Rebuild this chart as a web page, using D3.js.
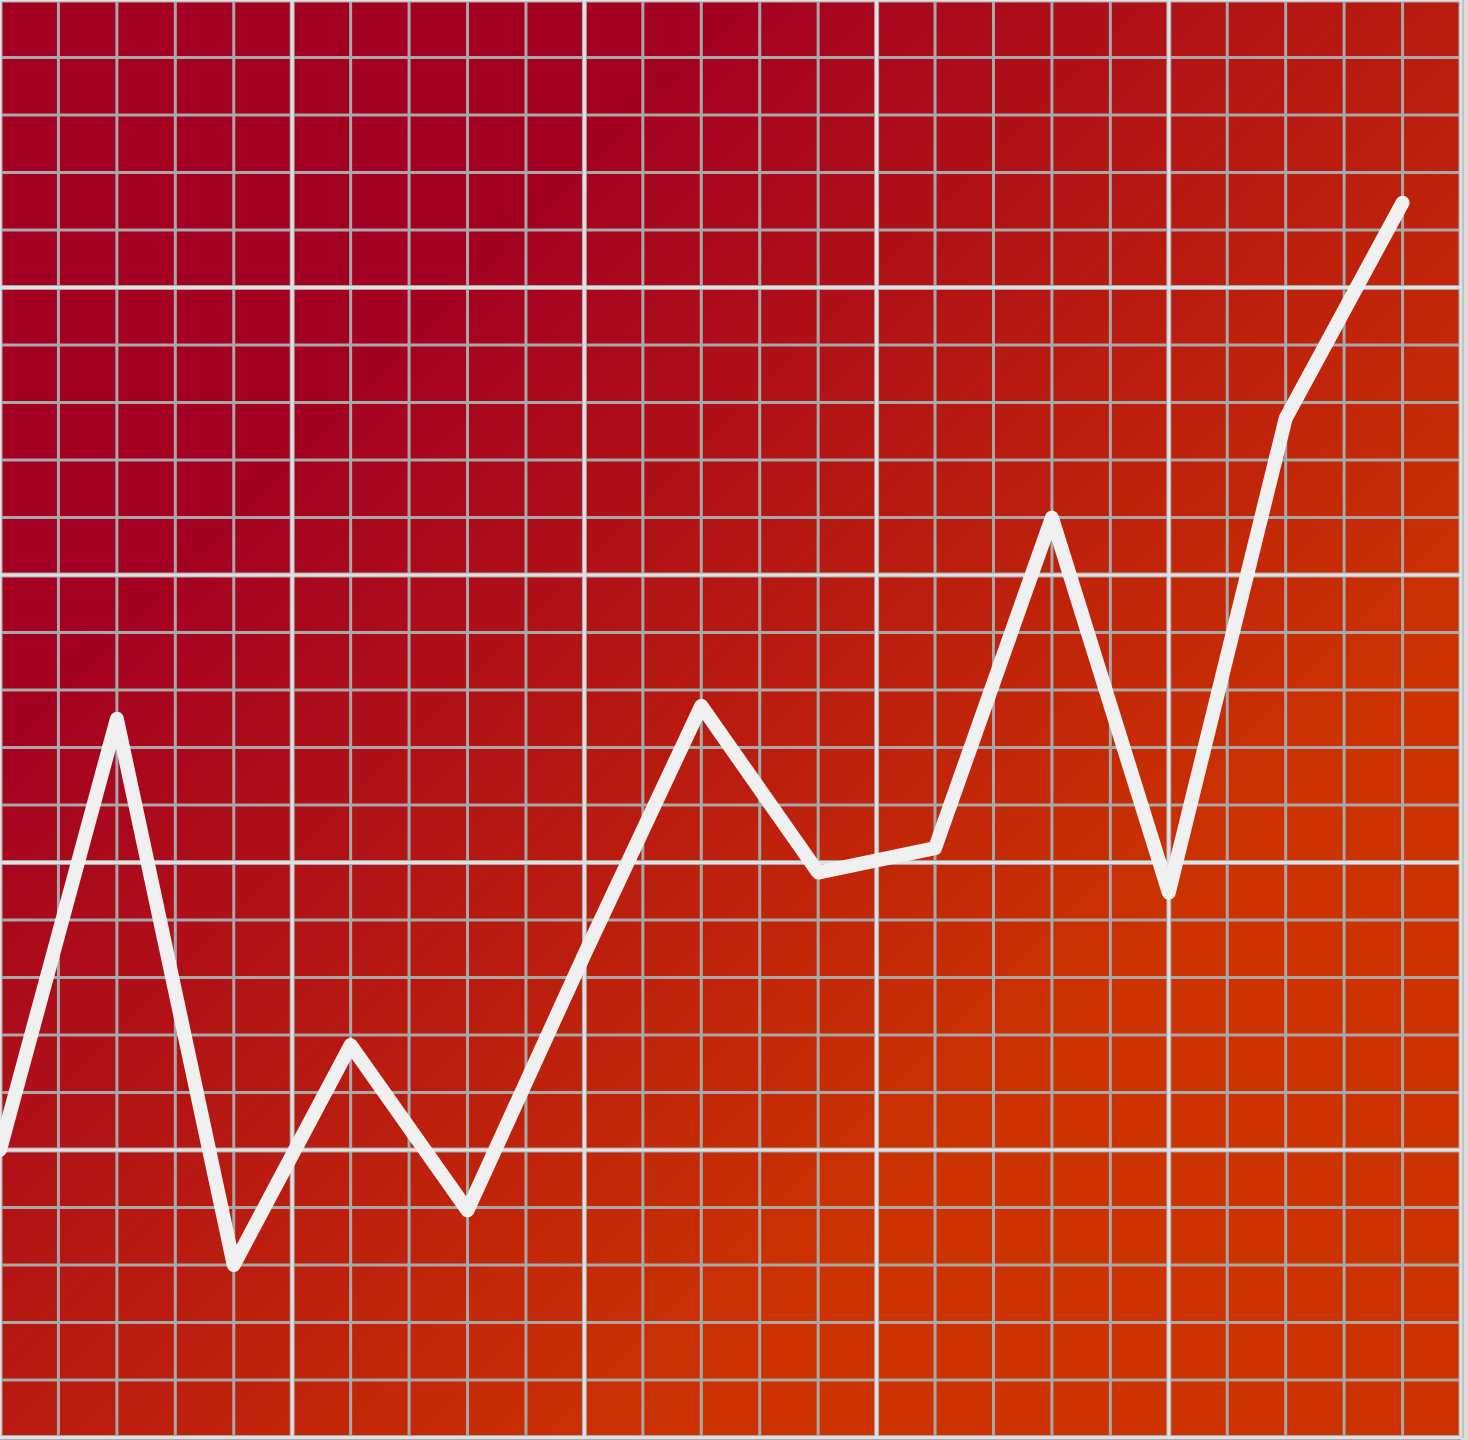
<!DOCTYPE html>
<html>
<head>
<meta charset="utf-8">
<script src="https://cdn.jsdelivr.net/npm/d3@7/dist/d3.min.js"></script>
<style>
  html, body { margin: 0; padding: 0; background: #dcdcdc; }
  svg { display: block; }
</style>
</head>
<body>
<svg id="chart" width="1468" height="1440"></svg>
<script>
// ---- data ----
const categories = [0, 1, 2, 3, 4, 5, 6, 7, 8, 9, 10, 11, 12];
const values = [20, 50, 12, 27.3, 15.8, 33.6, 50.9, 39.3, 41.0, 64.0, 37.9, 70.9, 85.9];
const xGridTicks = d3.range(0, 26);   // minor grid cells along x
const yGridTicks = d3.range(0, 26);   // minor grid cells along y
const majorEvery = 5;

// ---- layout ----
const W = 1461, H = 1437.5;
const svg = d3.select("#chart");

const defs = svg.append("defs");
const grad = defs.append("linearGradient")
  .attr("id", "bg")
  .attr("gradientUnits", "userSpaceOnUse")
  .attr("x1", 350).attr("y1", 350).attr("x2", 1050).attr("y2", 1050);
grad.append("stop").attr("offset", "0%").attr("stop-color", "#a30022");
grad.append("stop").attr("offset", "100%").attr("stop-color", "#cc3300");

svg.append("rect").attr("x", 0).attr("y", 0).attr("width", W).attr("height", H)
  .attr("fill", "url(#bg)");

const gx = d3.scaleLinear().domain([0, 25]).range([0, W]);
const gy = d3.scaleLinear().domain([0, 25]).range([H, 0]);

const x = d3.scaleLinear().domain([0, 12.5]).range([0, W]);
const y = d3.scaleLinear().domain([0, 100]).range([H, 0]);

const grid = svg.append("g");
// minor lines
grid.selectAll("line.vx").data(xGridTicks.filter(d => d % majorEvery !== 0)).join("line")
  .attr("x1", d => gx(d)).attr("x2", d => gx(d)).attr("y1", 0).attr("y2", H)
  .attr("stroke", "#a8a8a8").attr("stroke-width", 3);
grid.selectAll("line.hy").data(yGridTicks.filter(d => d % majorEvery !== 0)).join("line")
  .attr("class", "hy")
  .attr("y1", d => gy(d)).attr("y2", d => gy(d)).attr("x1", 0).attr("x2", W)
  .attr("stroke", "#a8a8a8").attr("stroke-width", 3);

// major lines
const majX = xGridTicks.filter(d => d % majorEvery === 0);
const majY = yGridTicks.filter(d => d % majorEvery === 0);
[["#a8a8a8", 5], ["#e0e0e0", 3]].forEach(([c, w]) => {
  grid.append("g").selectAll("line").data(majX).join("line")
    .attr("x1", d => gx(d)).attr("x2", d => gx(d)).attr("y1", 0).attr("y2", H)
    .attr("stroke", c).attr("stroke-width", w);
  grid.append("g").selectAll("line").data(majY).join("line")
    .attr("y1", d => gy(d)).attr("y2", d => gy(d)).attr("x1", 0).attr("x2", W)
    .attr("stroke", c).attr("stroke-width", w);
});

// series line
const line = d3.line().x((d, i) => x(categories[i])).y(d => y(d));
svg.append("path")
  .datum(values)
  .attr("d", line)
  .attr("fill", "none")
  .attr("stroke", "#f0f0f0")
  .attr("stroke-width", 14)
  .attr("stroke-linecap", "round")
  .attr("stroke-linejoin", "round");
</script>
</body>
</html>
